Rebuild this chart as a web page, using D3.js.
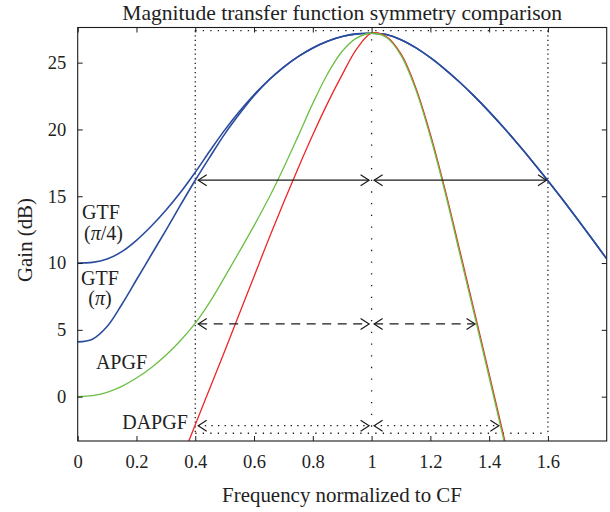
<!DOCTYPE html>
<html>
<head>
<meta charset="utf-8">
<script src="https://cdn.jsdelivr.net/npm/d3@7"></script>
<style>
  html, body { margin: 0; padding: 0; background: #fff; }
  svg { display: block; font-family: "Liberation Serif", "Times New Roman", serif; }
</style>
</head>
<body>
<svg id="chart" width="610" height="512"></svg>
<script>
// Normalised frequency grid (f / CF)
const freq = [0, 0.05, 0.1, 0.15, 0.2, 0.25, 0.3, 0.35, 0.4, 0.45, 0.5, 0.55, 0.6, 0.65, 0.7, 0.75,
  0.8, 0.85, 0.9, 0.95, 1, 1.05, 1.1, 1.15, 1.2, 1.25, 1.3, 1.35, 1.4, 1.45, 1.5, 1.55, 1.6,
  1.65, 1.7, 1.75, 1.8];

// Gain in dB for each filter
const gtfQuarterPi = [10.0, 10.05, 10.3, 10.85, 11.7, 12.75, 13.95, 15.3, 16.8, 18.4, 19.95, 21.35,
  22.6, 23.7, 24.65, 25.45, 26.1, 26.6, 26.95, 27.15, 27.2, 27.1, 26.72, 26.12, 25.37, 24.5, 23.53,
  22.47, 21.33, 20.12, 18.85, 17.53, 16.16, 14.75, 13.3, 11.82, 10.31];
const gtfPi = [4.1, 4.3, 5.25, 6.9, 8.75, 10.6, 12.45, 14.35, 16.2, 17.95, 19.65, 21.15, 22.52, 23.68,
  24.65, 25.45, 26.1, 26.6, 26.95, 27.15, 27.2, 27.1, 26.72, 26.12, 25.37, 24.5, 23.53, 22.47, 21.33,
  20.12, 18.85, 17.53, 16.16, 14.75, 13.3, 11.82, 10.31];
const apgf = [0, 0.07, 0.32, 0.77, 1.39, 2.17, 3.1, 4.2, 5.5, 7.1, 8.95, 10.85, 12.8, 14.85, 17.1,
  19.5, 21.95, 24.15, 25.85, 26.85, 27.2, 26.9, 25.55, 23.0, 19.45, 15.3, 10.7, 6.1, 1.45, -3.25,
  -7.95, null, null, null, null, null, null];
const dapgf = [null, null, null, null, null, null, null, -4.9, -2.1, 0.65, 3.4, 6.2, 9.0, 11.8, 14.5,
  17.1, 19.6, 21.95, 24.1, 26.05, 27.2, 26.95, 25.65, 23.15, 19.65, 15.5, 10.95, 6.35, 1.7, -3.0,
  -7.7, null, null, null, null, null, null];

// Axis ticks
const xTicks = [0, 0.2, 0.4, 0.6, 0.8, 1, 1.2, 1.4, 1.6];
const xTickLabels = ["0", "0.2", "0.4", "0.6", "0.8", "1", "1.2", "1.4", "1.6"];
const yTicks = [0, 5, 10, 15, 20, 25];
const yTickLabels = ["0", "5", "10", "15", "20", "25"];

// Bandwidth markers: level (dB), lower and upper edge (f / CF) for GTF, APGF, DAPGF
const bandLevel = [16.2, 5.44, -2.17];
const bandLow = [0.41, 0.41, 0.41];
const bandHigh = [1.595, 1.352, 1.433];
const centreFreq = 1;

// Dotted guide box
const guideFreqs = [0.4, 1.6];
const guideTop = 27.4;
const guideBottom = -2.74;
const peakGain = 27.2;

// Curve labels
const labelLines = [["GTF", "(\u03c0/4)"], ["GTF", "(\u03c0)"], ["APGF"], ["DAPGF"]];

const svg = d3.select("#chart");
const L = 77.7, R = 606.7, T = 27.5, B = 441;
const x = d3.scaleLinear().domain([0, 1.8]).range([L, R]);
const y = d3.scaleLinear().domain([-3.32, 27.63]).range([B, T]);

const ink = "#1b1b1b";

svg.append("defs").append("clipPath").attr("id", "plot-clip")
  .append("rect").attr("x", L).attr("y", T).attr("width", R - L).attr("height", B - T);

// ---- dotted guide lines ----
const guides = svg.append("g").attr("stroke", ink).attr("stroke-width", 1.3).attr("fill", "none");
guideFreqs.forEach(f => {
  guides.append("line")
    .attr("x1", x(f)).attr("x2", x(f)).attr("y1", y(guideTop)).attr("y2", y(guideBottom))
    .attr("stroke-dasharray", "1.3,3.3");
});
[guideTop, guideBottom].forEach(v => {
  guides.append("line")
    .attr("x1", x(guideFreqs[0])).attr("x2", x(guideFreqs[1])).attr("y1", y(v)).attr("y2", y(v))
    .attr("stroke-dasharray", "1.3,6.2");
});
guides.append("line")
  .attr("x1", x(centreFreq)).attr("x2", x(centreFreq))
  .attr("y1", y(peakGain) + 6).attr("y2", y(guideBottom))
  .attr("stroke-dasharray", "1.3,10.4");

// ---- curves ----
const line = d3.line()
  .defined(d => d[1] != null)
  .x(d => x(d[0])).y(d => y(d[1]))
  .curve(d3.curveCatmullRom.alpha(0.5));

const series = [
  { values: gtfQuarterPi, color: "#2b4c9e", width: 1.6 },
  { values: gtfPi, color: "#2b4c9e", width: 1.6 },
  { values: dapgf, color: "#ee2626", width: 1.3 },
  { values: apgf, color: "#6cbf45", width: 1.3 }
];
const curves = svg.append("g").attr("clip-path", "url(#plot-clip)");
series.forEach(s => {
  curves.append("path")
    .datum(freq.map((f, i) => [f, s.values[i]]))
    .attr("fill", "none")
    .attr("stroke", s.color)
    .attr("stroke-width", s.width)
    .attr("stroke-linejoin", "round")
    .attr("d", line);
});

// ---- double-headed bandwidth arrows ----
const arrowDash = [null, "9,6.5", "1.4,5.2"];
const arrows = svg.append("g").attr("stroke", ink).attr("fill", "none").attr("stroke-width", 1.2);
function arrow(x0, x1, yy, dash) {
  arrows.append("line").attr("x1", x0).attr("x2", x1).attr("y1", yy).attr("y2", yy)
    .attr("stroke-dasharray", dash);
  const hl = 8.5, hw = 5.5;
  arrows.append("path").attr("d", `M${x0 + hl},${yy - hw}L${x0},${yy}L${x0 + hl},${yy + hw}`);
  arrows.append("path").attr("d", `M${x1 - hl},${yy - hw}L${x1},${yy}L${x1 - hl},${yy + hw}`);
}
bandLevel.forEach((lv, i) => {
  const yy = y(lv);
  arrow(x(bandLow[i]), x(centreFreq) - 2.5, yy, arrowDash[i]);
  arrow(x(centreFreq) + 2.5, x(bandHigh[i]), yy, arrowDash[i]);
});

// ---- axes ----
const xAxis = d3.axisBottom(x).tickValues(xTicks).tickFormat((d, i) => xTickLabels[i])
  .tickSizeInner(-5).tickSizeOuter(0).tickPadding(14.2);
const yAxis = d3.axisLeft(y).tickValues(yTicks).tickFormat((d, i) => yTickLabels[i])
  .tickSizeInner(-5).tickSizeOuter(0).tickPadding(11.5);

svg.append("g").attr("transform", `translate(0,${B})`).call(xAxis);
svg.append("g").attr("transform", `translate(${L},0)`).call(yAxis);
svg.append("g").attr("transform", `translate(0,${T})`)
  .call(d3.axisTop(x).tickValues(xTicks).tickFormat("").tickSizeInner(-5).tickSizeOuter(0));
svg.append("g").attr("transform", `translate(${R},0)`)
  .call(d3.axisRight(y).tickValues(yTicks).tickFormat("").tickSizeInner(-5).tickSizeOuter(0));

svg.selectAll(".domain").remove();
svg.selectAll(".tick line").attr("stroke", ink).attr("stroke-width", 1);
svg.selectAll(".tick text")
  .attr("font-family", "Liberation Serif, Times New Roman, serif")
  .attr("font-size", 18.5).attr("fill", "#222");

svg.append("rect").attr("x", L).attr("y", T).attr("width", R - L).attr("height", B - T)
  .attr("fill", "none").attr("stroke", ink).attr("stroke-width", 1.1);

// ---- titles ----
function fitWidth(sel, target) {
  const w = sel.node().getComputedTextLength();
  sel.attr("font-size", parseFloat(sel.attr("font-size")) * target / w);
}
const title = svg.append("text").attr("x", (L + R) / 2).attr("y", 19.5)
  .attr("text-anchor", "middle").attr("font-size", 20).attr("fill", "#222")
  .text("Magnitude transfer function symmetry comparison");
fitWidth(title, 440);

const xlab = svg.append("text").attr("x", 342).attr("y", 501.5)
  .attr("text-anchor", "middle").attr("font-size", 20).attr("fill", "#222")
  .text("Frequency normalized to CF");
fitWidth(xlab, 240);

const ylab = svg.append("text").attr("transform", "translate(31.5,240) rotate(-90)")
  .attr("text-anchor", "middle").attr("font-size", 20).attr("fill", "#222")
  .text("Gain (dB)");
fitWidth(ylab, 84);

// ---- curve labels ----
const labelPos = [
  [[101, 219], [103.5, 240]],
  [[100, 285], [100, 305]],
  [[121.5, 368.5]],
  [[155, 429]]
];
const lbl = svg.append("g").attr("font-size", 20).attr("fill", "#222").attr("text-anchor", "middle");
labelLines.forEach((lines, i) => {
  lines.forEach((t, j) => {
    const [px, py] = labelPos[i][j];
    const txt = lbl.append("text").attr("x", px).attr("y", py);
    t.split(/(\u03c0)/).forEach(part => {
      if (!part) return;
      const sp = txt.append("tspan").text(part);
      if (part === "\u03c0") sp.attr("font-style", "italic");
    });
  });
});
</script>
</body>
</html>
